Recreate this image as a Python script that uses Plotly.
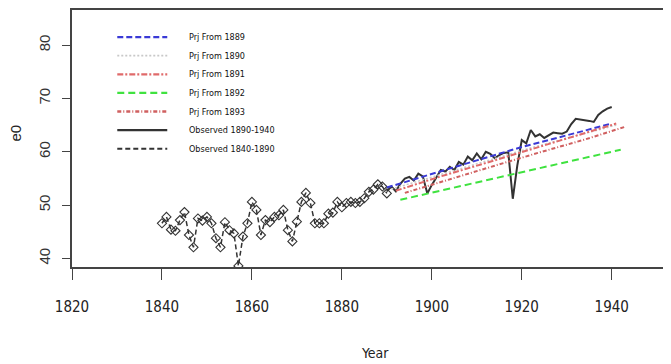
import plotly.graph_objects as go

# ---------------- data ----------------
obs_early_years = list(range(1840, 1891))
obs_early_vals = [46.6, 47.8, 45.4, 45.2, 47.2, 48.7, 44.4, 42.1, 47.5, 47.1,
                  47.8, 46.6, 43.8, 42.1, 46.8, 45.3, 44.7, 38.6, 44.1, 46.6,
                  50.6, 49.1, 44.4, 47.2, 46.8, 47.8, 48.1, 49.1, 45.3, 43.2,
                  46.9, 50.6, 52.3, 50.4, 46.6, 46.6, 46.6, 48.4, 48.6, 50.6,
                  49.6, 50.4, 50.6, 50.4, 50.6, 51.3, 52.5, 52.9, 53.9, 53.5,
                  52.2]

obs_late_years = list(range(1890, 1941))
obs_late_vals = [52.6, 53.5, 52.6, 54.0, 55.0, 55.3, 54.6, 55.9, 55.4, 52.2,
                 53.8, 55.2, 56.6, 56.3, 57.2, 56.6, 58.1, 57.6, 59.1, 58.4,
                 59.7, 58.6, 60.0, 59.6, 58.8, 59.4, 59.8, 59.9, 51.2, 57.4,
                 62.2, 61.6, 64.1, 62.9, 63.3, 62.6, 63.1, 63.6, 63.5, 63.4,
                 63.8, 65.2, 66.2, 66.1, 66.0, 65.8, 65.6, 66.9, 67.6, 68.1,
                 68.4]

prj1889_years = [1890, 1900, 1910, 1920, 1930, 1940]
prj1889_vals = [53.3, 55.9, 58.4, 60.9, 63.1, 65.3]
prj1890_years = [1891, 1901, 1911, 1921, 1931, 1941]
prj1890_vals = [53.0, 55.5, 58.0, 60.5, 62.8, 65.0]
prj1891_years = [1892, 1902, 1912, 1922, 1932, 1941]
prj1891_vals = [52.7, 55.4, 57.9, 60.5, 63.0, 65.3]
prj1892_years = [1893, 1903, 1913, 1923, 1933, 1942]
prj1892_vals = [51.0, 52.9, 54.8, 56.7, 58.6, 60.4]
prj1893_years = [1894, 1904, 1914, 1924, 1934, 1943]
prj1893_vals = [52.3, 54.9, 57.4, 59.9, 62.3, 64.7]

legend_labels = ["Prj From 1889", "Prj From 1890", "Prj From 1891", "Prj From 1892",
                 "Prj From 1893", "Observed 1890-1940", "Observed 1840-1890"]
x_ticks = [1820, 1840, 1860, 1880, 1900, 1920, 1940]
y_ticks = [40, 50, 60, 70, 80]

# ---------------- style ----------------
styles = [
    dict(color="#3a3ad6", dash="6px,3px", width=2),
    dict(color="#c8c8c8", dash="2px,2px", width=1.5),
    dict(color="#e06a6a", dash="6px,2px,2px,2px", width=2),
    dict(color="#3fe23f", dash="7px,4px", width=2),
    dict(color="#d06060", dash="4px,2px,1px,2px", width=2),
    dict(color="#333333", dash="solid", width=2),
    dict(color="#333333", dash="5px,3px", width=1.5),
]

OFF = 8  # page body margin offset
WIN_W, WIN_H = 671, 364
W, H = WIN_W - OFF, WIN_H - OFF
# plot area edges in window pixels
L_WIN, T_WIN, B_WIN, R_WIN = 71.7, 10.0, 266.7, 671.0
L, T, B_PIX, R_PIX = L_WIN - OFF, T_WIN - OFF, B_WIN - OFF, R_WIN - OFF
narrow = "DejaVu Sans Condensed, Liberation Sans Narrow, sans-serif"

def px_x(p):
    return (p - OFF - L) / (R_PIX - L)

def px_y(p):
    return (B_PIX - (p - OFF)) / (B_PIX - T)

fig = go.Figure()

series = [
    (prj1889_years, prj1889_vals),
    (prj1890_years, prj1890_vals),
    (prj1891_years, prj1891_vals),
    (prj1892_years, prj1892_vals),
    (prj1893_years, prj1893_vals),
]

fig.add_trace(go.Scatter(
    x=obs_early_years, y=obs_early_vals, mode="lines+markers",
    line=dict(color=styles[6]["color"], dash=styles[6]["dash"], width=styles[6]["width"]),
    marker=dict(symbol="diamond-open", size=7, color="#333333", line=dict(width=1.1)),
    showlegend=False))

fig.add_trace(go.Scatter(
    x=obs_late_years, y=obs_late_vals, mode="lines",
    line=dict(color=styles[5]["color"], dash="solid", width=styles[5]["width"]),
    showlegend=False))

for (xs, ys), st in zip(series, styles[:5]):
    fig.add_trace(go.Scatter(x=xs, y=ys, mode="lines",
                             line=dict(color=st["color"], dash=st["dash"], width=st["width"]),
                             showlegend=False))

# manual legend
shapes = []
annotations = []
row0, step = 37.0, 18.6
for i, (lab, st) in enumerate(zip(legend_labels, styles)):
    yy = px_y(row0 + i * step)
    shapes.append(dict(type="line", xref="paper", yref="paper",
                       x0=px_x(117), x1=px_x(167), y0=yy, y1=yy,
                       line=dict(color=st["color"], dash=st["dash"], width=st["width"] + 0.3)))
    annotations.append(dict(xref="paper", yref="paper", x=px_x(187), y=yy,
                            text=lab, showarrow=False, xanchor="left", yanchor="middle",
                            font=dict(family=narrow, size=9, color="#111111")))

annotations.append(dict(xref="paper", yref="paper", x=px_x(375), y=px_y(353),
                        text="Year", showarrow=False, xanchor="center", yanchor="middle",
                        font=dict(family=narrow, size=14, color="#222222")))
annotations.append(dict(xref="paper", yref="paper", x=px_x(15), y=px_y(133),
                        text="e0", showarrow=False, xanchor="center", yanchor="middle",
                        textangle=-90,
                        font=dict(family="Liberation Sans, Arial, sans-serif", size=15, color="#222222")))

fig.update_layout(
    width=W, height=H,
    margin=dict(l=L, r=W - R_PIX, t=T, b=H - B_PIX, autoexpand=False),
    paper_bgcolor="white", plot_bgcolor="white",
    shapes=shapes, annotations=annotations,
    showlegend=False,
)

fig.update_xaxes(
    range=[1820, 1820 + (R_WIN - L_WIN) / 4.5],
    tickmode="array", tickvals=x_ticks, ticktext=[str(t) for t in x_ticks],
    ticks="outside", ticklen=11, tickwidth=1.2, tickcolor="#444444",
    tickfont=dict(family=narrow, size=15, color="#222222"),
    ticklabelstandoff=14,
    showline=True, linecolor="#444444", linewidth=1.5, mirror=True,
    showgrid=False, zeroline=False,
)
fig.update_yaxes(
    range=[38.4, 86.6],
    tickmode="array", tickvals=y_ticks, ticktext=[str(t) for t in y_ticks],
    ticks="outside", ticklen=8, tickwidth=1.2, tickcolor="#444444",
    tickangle=-90,
    tickfont=dict(family="Liberation Sans, Arial, sans-serif", size=15, color="#333333"),
    ticklabelstandoff=6,
    showline=True, linecolor="#444444", linewidth=1.5, mirror=True,
    showgrid=False, zeroline=False,
)

fig.write_html("out.html")
